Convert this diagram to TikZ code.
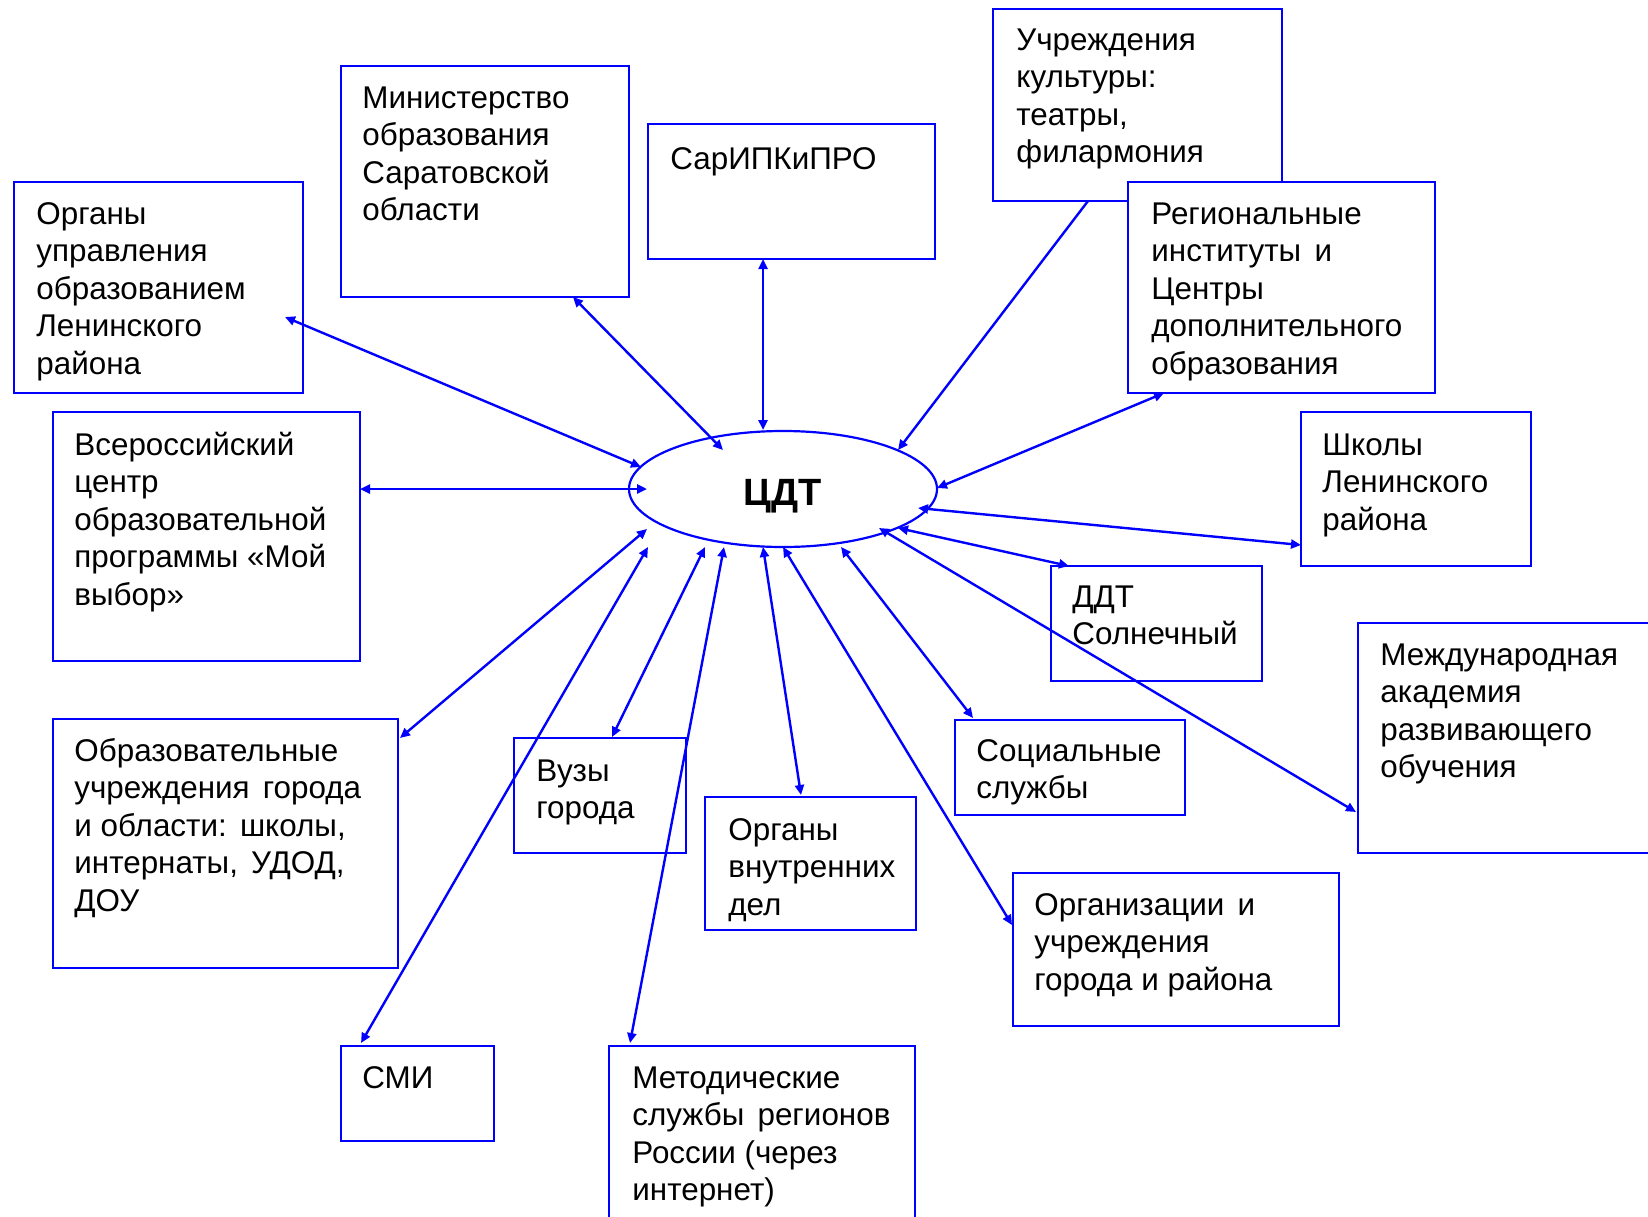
\documentclass[tikz,border=0pt]{standalone}
\usepackage{fontspec}
\setmainfont{Liberation Sans}
\usetikzlibrary{arrows.meta,shapes.geometric,fit}
\newcommand\mytab[1]{\begin{tabular}[t]{@{}l@{}}#1\end{tabular}}
\newcommand\dsp{\hspace{0.42em}}
\begin{document}
\begin{tikzpicture}[x=0.5pt,y=-0.5pt,
  boxst/.style={draw=blue, line width=1.35pt, fill=white, inner sep=0pt},
  txt/.style={anchor=base west, inner sep=0pt, font=\fontsize{15.7pt}{18.8pt}\selectfont},
  con/.style={draw=blue, line width=1.2pt, arrows={Triangle[length=5pt,width=4.5pt]-Triangle[length=5pt,width=4.5pt]}},
  con1/.style={draw=blue, line width=1.2pt, arrows={-Triangle[length=5pt,width=4.5pt]}}]
\useasboundingbox (0,0) rectangle (1648,1216);
\clip (0,0) rectangle (1648,1216);
\fill[white] (0,0) rectangle (1648,1216);

% boxes
\node[boxst, fit={(14,182) (303,393)}] (b1) {};
\node[boxst, fit={(341,66) (629,297)}] (b2) {};
\node[boxst, fit={(648,124) (935,259)}] (b3) {};
\node[boxst, fit={(993,9) (1282,201)}] (b4) {};
\node[boxst, fit={(1128,182) (1435,393)}] (b5) {};
\node[boxst, fit={(53,412) (360,661)}] (b6) {};
\node[boxst, fit={(1301,412) (1531,566)}] (b7) {};
\node[boxst, fit={(1051,566) (1262,681)}] (b8) {};
\node[boxst, fit={(1358,623) (1664,853)}] (b9) {};
\node[boxst, fit={(53,719) (398,968)}] (b10) {};
\node[boxst, fit={(514,738) (686,853)}] (b11) {};
\node[boxst, fit={(705,797) (916,930)}] (b12) {};
\node[boxst, fit={(955,720) (1185,815)}] (b13) {};
\node[boxst, fit={(1013,873) (1339,1026)}] (b14) {};
\node[boxst, fit={(341,1046) (494,1141)}] (b15) {};
\node[boxst, fit={(609,1046) (915,1230)}] (b16) {};

% texts
\node[txt] (t1) at (36,224) {\mytab{Органы\\управления\\образованием\\Ленинского\\района}};
\node[txt] (t2) at (362,108) {\mytab{Министерство\\образования\\Саратовской\\области}};
\node[txt] (t3) at (670,169) {\mytab{СарИПКиПРО}};
\node[txt] (t4) at (1016,50) {\mytab{Учреждения\\культуры:\\театры,\\филармония}};
\node[txt] (t5) at (1151,224) {\mytab{Региональные\\институты\dsp и\\Центры\\дополнительного\\образования}};
\node[txt] (t6) at (74,455) {\mytab{Всероссийский\\центр\\образовательной\\программы «Мой\\выбор»}};
\node[txt] (t7) at (1322,455) {\mytab{Школы\\Ленинского\\района}};
\node[txt] (t8) at (1072,607) {\mytab{ДДТ\\Солнечный}};
\node[txt] (t9) at (1380,665) {\mytab{Международная\\академия\\развивающего\\обучения}};
\node[txt] (t10) at (74,761) {\mytab{Образовательные\\учреждения\dsp города\\и области:\dsp школы,\\интернаты,\dsp УДОД,\\ДОУ}};
\node[txt] (t11) at (536,781) {\mytab{Вузы\\города}};
\node[txt] (t12) at (728,840) {\mytab{Органы\\внутренних\\дел}};
\node[txt] (t13) at (976,761) {\mytab{Социальные\\службы}};
\node[txt] (t14) at (1034,915) {\mytab{Организации\dsp и\\учреждения\\города и района}};
\node[txt] (t15) at (362,1088) {\mytab{СМИ}};
\node[txt] (t16) at (632,1088) {\mytab{Методические\\службы\dsp регионов\\России (через\\интернет)}};

% centre
\node[draw=blue, line width=1.1pt, ellipse, minimum width=154pt, minimum height=58pt, inner sep=0pt] (cdt) at (783,489) {};
\node[anchor=base, inner sep=0pt, font=\fontsize{19pt}{22pt}\selectfont\bfseries] (cdtt) at (783,505) {ЦДТ};

% connector ends
\coordinate (e1) at (285,317);   \coordinate (c1) at (641,467);
\coordinate (e2) at (573,297);   \coordinate (c2) at (723,450);
\coordinate (e3) at (763,259);   \coordinate (c3) at (763,430);
\coordinate (e4) at (1088,201);  \coordinate (c4) at (898,450);
\coordinate (e5) at (1164,393);  \coordinate (c5) at (937,488);
\coordinate (e6) at (360,489);   \coordinate (c6) at (647,489);
\coordinate (e7) at (1301,545);  \coordinate (c7) at (918,508);
\coordinate (e8) at (1069,566);  \coordinate (c8) at (898,528);
\coordinate (e9) at (1356,812);  \coordinate (c9) at (879,528);
\coordinate (e10) at (400,738);  \coordinate (c10) at (647,529);
\coordinate (e11) at (612,737);  \coordinate (c11) at (705,547);
\coordinate (e12) at (801,795);  \coordinate (c12) at (763,547);
\coordinate (e13) at (973,718);  \coordinate (c13) at (841,547);
\coordinate (e14) at (1012,925); \coordinate (c14) at (783,547);
\coordinate (e15) at (361,1043); \coordinate (c15) at (648,547);
\coordinate (e16) at (630,1043); \coordinate (c16) at (724,547);

\draw[con] (e1) -- (c1);
\draw[con] (e2) -- (c2);
\draw[con] (e3) -- (c3);
\draw[con1] (e4) -- (c4);
\draw[con] (e5) -- (c5);
\draw[con] (e6) -- (c6);
\draw[con] (e7) -- (c7);
\draw[con] (e8) -- (c8);
\draw[con] (e9) -- (c9);
\draw[con] (e10) -- (c10);
\draw[con] (e11) -- (c11);
\draw[con] (e12) -- (c12);
\draw[con] (e13) -- (c13);
\draw[con] (e14) -- (c14);
\draw[con] (e15) -- (c15);
\draw[con] (e16) -- (c16);
\end{tikzpicture}
\end{document}
